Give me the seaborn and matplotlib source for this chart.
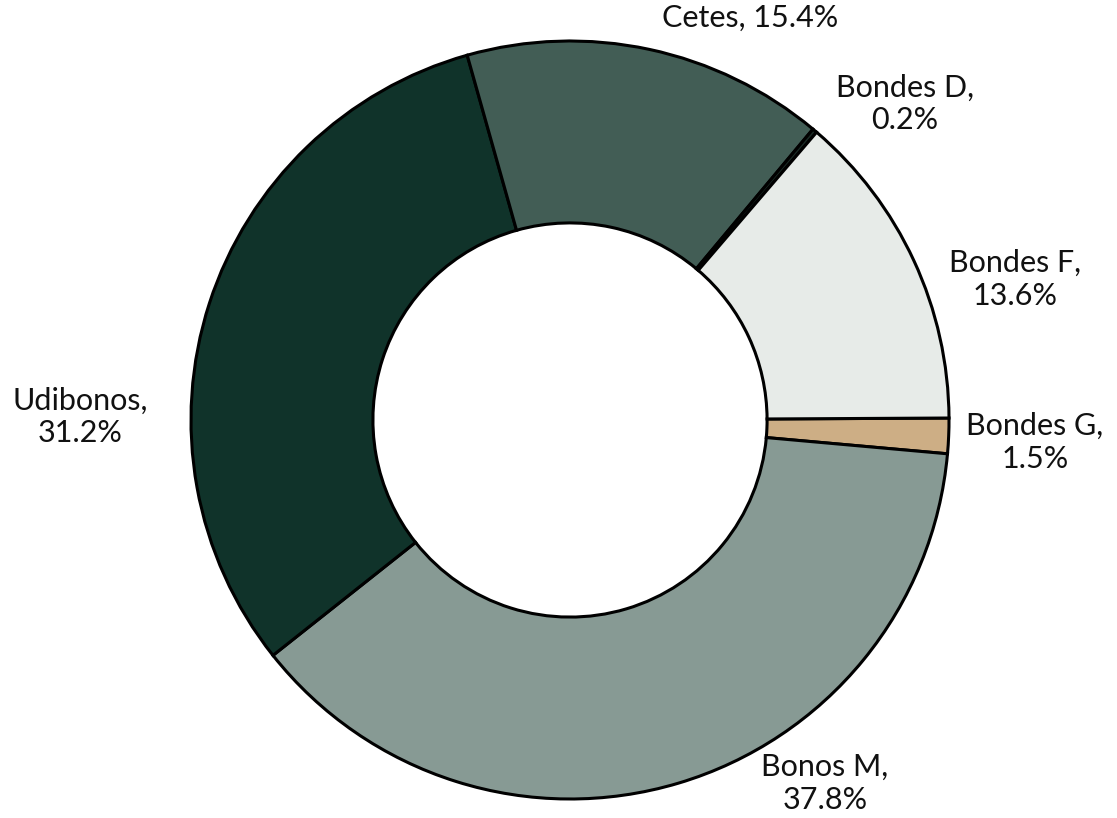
import matplotlib
matplotlib.use("Agg")
import matplotlib.pyplot as plt
import seaborn as sns

# Data
labels = ['Bondes G', 'Bonos M', 'Udibonos', 'Cetes', 'Bondes D', 'Bondes F']
shares = [1.5, 37.8, 31.2, 15.4, 0.2, 13.6]
colors = ['#CDAE85', '#879A94', '#10332A', '#425D55', '#1A2A25', '#E7EBE8']

# label text placement (data units, pie radius = 1)
label_pos = {
    'Bondes G': (1.227, -0.058),
    'Bonos M': (0.673, -0.958),
    'Udibonos': (-1.293, 0.008),
    'Cetes': (0.475, 1.061),
    'Bondes D': (0.884, 0.834),
    'Bondes F': (1.174, 0.372),
}

sns.set_style('white')
plt.rcParams['font.family'] = ['Lato', 'DejaVu Sans']

fig = plt.figure(figsize=(11.17, 8.18), dpi=100)
ax = fig.add_axes([0, 0, 1, 1])

ax.pie(shares, colors=colors, startangle=0.3, counterclock=False,
       radius=1.0,
       wedgeprops=dict(width=0.48, edgecolor='black', linewidth=2.2))

for name, val in zip(labels, shares):
    x, y = label_pos[name]
    txt = f'{name}, {val:.1f}%' if name == 'Cetes' else f'{name},\n{val:.1f}%'
    ax.text(x, y, txt, ha='center', va='center', fontsize=22,
            color='#111111', linespacing=1.22)

# scale: 379 px per unit, centre at (570, 420) px
ax.set_aspect('auto')
ax.set_xlim(-570 / 379, (1117 - 570) / 379)
ax.set_ylim(-(818 - 420) / 379, 420 / 379)
ax.axis('off')

fig.savefig('out.png', dpi=100, facecolor='white')
